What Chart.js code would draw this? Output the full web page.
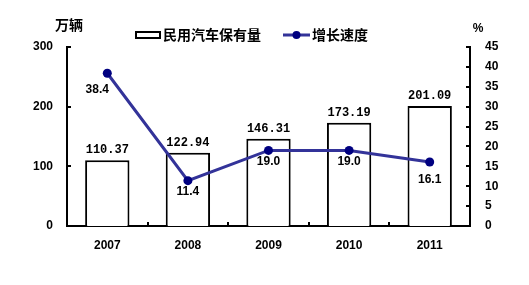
<!DOCTYPE html>
<html>
<head>
<meta charset="utf-8">
<script src="https://cdn.jsdelivr.net/npm/chart.js@4/dist/chart.umd.min.js"></script>
<style>
    html, body { margin: 0; padding: 0; background: #fff; }
    #wrap { width: 529px; height: 285px; position: relative; }
</style>
</head>
<body>
<div id="wrap"><canvas id="chart"></canvas></div>
<script>
// Data
const years = ['2007', '2008', '2009', '2010', '2011'];
const vehicles = [110.37, 122.94, 146.31, 173.19, 201.09];   // 万辆
const growth = [38.4, 11.4, 19.0, 19.0, 16.1];               // %
const leftTicks = [0, 100, 200, 300];
const rightTicks = [0, 5, 10, 15, 20, 25, 30, 35, 40, 45];

const barLabel = '民用汽车保有量';
const lineLabel = '增长速度';
const leftUnit = '万辆';
const rightUnit = '%';

const cjkFont = 'bold 14px "Noto Sans CJK SC", sans-serif';
const numFont = 'bold 12px "Liberation Sans", Arial, sans-serif';
const barValFont = 'bold 12px "Liberation Mono", monospace';
const lineColor = '#333399';
const dotColor = '#000080';

/**
 * Inside tick marks, value labels, legend and units
 */
const decorations = {
    id: 'decorations',
    afterDatasetsDraw(chart) {
        const ctx = chart.ctx;
        const x = chart.scales.x;
        const y = chart.scales.y;
        const y1 = chart.scales.y1;
        const area = chart.chartArea;

        ctx.save();
        ctx.strokeStyle = '#000';
        ctx.lineWidth = 2;

        // left/right axis ticks pointing inward
        leftTicks.forEach(v => {
            const py = Math.round(y.getPixelForValue(v));
            ctx.beginPath();
            ctx.moveTo(area.left, py);
            ctx.lineTo(area.left + 4, py);
            ctx.stroke();
        });
        rightTicks.forEach(v => {
            const py = Math.round(y1.getPixelForValue(v));
            ctx.beginPath();
            ctx.moveTo(area.right, py);
            ctx.lineTo(area.right - 4, py);
            ctx.stroke();
        });

        // category boundary ticks on the x axis
        const step = (x.getPixelForValue(1) - x.getPixelForValue(0));
        for (let i = 1; i < years.length; i++) {
            const px = Math.round(x.getPixelForValue(i) - step / 2);
            ctx.beginPath();
            ctx.moveTo(px, area.bottom);
            ctx.lineTo(px, area.bottom - 4);
            ctx.stroke();
        }

        // bar values
        ctx.fillStyle = '#000';
        ctx.font = barValFont;
        ctx.textAlign = 'center';
        ctx.textBaseline = 'bottom';
        const barMeta = chart.getDatasetMeta(0);
        vehicles.forEach((v, i) => {
            const bar = barMeta.data[i];
            ctx.fillText(v.toFixed(2), bar.x, bar.y - 4);
        });

        // growth values under the points
        ctx.font = numFont;
        ctx.textBaseline = 'middle';
        const lineMeta = chart.getDatasetMeta(1);
        growth.forEach((v, i) => {
            const pt = lineMeta.data[i];
            const dx = i === 0 ? -10 : 0;
            const dy = i === 0 ? 16 : (i === growth.length - 1 ? 18 : 11);
            ctx.fillText(v.toFixed(1), pt.x + dx, pt.y + dy);
        });

        // legend
        const ly = 35;
        ctx.lineWidth = 2;
        ctx.strokeRect(136, ly - 3, 24, 6);
        ctx.font = cjkFont;
        ctx.textAlign = 'left';
        ctx.fillText(barLabel, 163, ly);

        ctx.strokeStyle = lineColor;
        ctx.lineWidth = 3;
        ctx.beginPath();
        ctx.moveTo(283, ly);
        ctx.lineTo(310, ly);
        ctx.stroke();
        ctx.fillStyle = dotColor;
        ctx.beginPath();
        ctx.arc(296.5, ly, 4, 0, Math.PI * 2);
        ctx.fill();
        ctx.fillStyle = '#000';
        ctx.fillText(lineLabel, 312, ly);

        // units
        ctx.textAlign = 'center';
        ctx.fillText(leftUnit, 69, 25);
        ctx.font = numFont;
        ctx.fillText(rightUnit, 478, 29);

        ctx.restore();
    }
};

const ctx = document.getElementById('chart').getContext('2d');

new Chart(ctx, {
    type: 'bar',
    data: {
        labels: years,
        datasets: [
            {
                label: barLabel,
                data: vehicles,
                backgroundColor: '#ffffff',
                borderColor: '#000000',
                borderWidth: 2,
                barPercentage: 0.55,
                categoryPercentage: 1.0,
                yAxisID: 'y',
                order: 2
            },
            {
                type: 'line',
                label: lineLabel,
                data: growth,
                borderColor: lineColor,
                borderWidth: 3,
                pointRadius: 4.5,
                pointBackgroundColor: dotColor,
                pointBorderColor: dotColor,
                pointBorderWidth: 0,
                tension: 0,
                yAxisID: 'y1',
                order: 1
            }
        ]
    },
    options: {
        responsive: true,
        maintainAspectRatio: false,
        animation: false,
        devicePixelRatio: 1,
        layout: {
            padding: { top: 47, right: 0, left: 0, bottom: 0 }
        },
        plugins: {
            legend: { display: false },
            tooltip: { enabled: false }
        },
        scales: {
            x: {
                grid: { display: false, drawTicks: false },
                border: { display: true, color: '#000', width: 2 },
                ticks: {
                    color: '#000',
                    font: { family: '"Liberation Sans", Arial, sans-serif', size: 12, weight: 'bold' },
                    padding: 12,
                    maxRotation: 0
                },
                afterFit(scale) { scale.height = 59; }
            },
            y: {
                position: 'left',
                min: 0,
                max: 300,
                afterBuildTicks(scale) { scale.ticks = leftTicks.map(v => ({ value: v })); },
                grid: { display: false, drawTicks: false },
                border: { display: true, color: '#000', width: 2 },
                ticks: {
                    color: '#000',
                    font: { family: '"Liberation Sans", Arial, sans-serif', size: 12, weight: 'bold' },
                    padding: 14
                },
                afterFit(scale) { scale.width = 67; }
            },
            y1: {
                position: 'right',
                min: 0,
                max: 45,
                afterBuildTicks(scale) { scale.ticks = rightTicks.map(v => ({ value: v })); },
                grid: { display: false, drawTicks: false },
                border: { display: true, color: '#000', width: 2 },
                ticks: {
                    color: '#000',
                    font: { family: '"Liberation Sans", Arial, sans-serif', size: 12, weight: 'bold' },
                    padding: 15
                },
                afterFit(scale) { scale.width = 59; }
            }
        }
    },
    plugins: [decorations]
});
</script>
</body>
</html>
